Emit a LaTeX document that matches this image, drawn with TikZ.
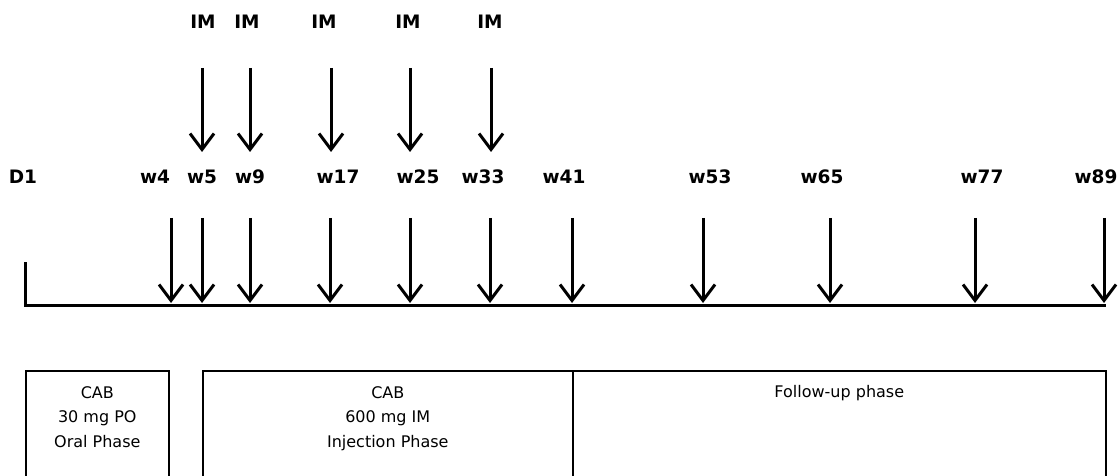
\documentclass[tikz,border=0pt]{standalone}
\usepackage{fontspec}
\setmainfont{DejaVu Sans}
\usetikzlibrary{arrows.meta,positioning}

\begin{document}
\begin{tikzpicture}[x=1pt, y=-1pt,
    week/.style={font=\fontsize{18.5}{20}\selectfont\bfseries, anchor=base, inner sep=0pt},
    dose/.style={-{Straight Barb[length=16pt,width=24pt]}, line width=3pt},
    phasebox/.style={draw, line width=1.6pt, anchor=north west, minimum height=130pt, inner sep=0pt},
    phasetext/.style={font=\fontsize{16}{24.5}\selectfont, align=center, anchor=north, inner sep=0pt}]
        \clip (0,0) rectangle (1120,476);
        \fill[white] (0,0) rectangle (1120,476);

        % injection labels and arrows
        \node[week] (im5) at (203,29) {IM};
        \node[week] (im9) at (247,29) {IM};
        \node[week] (im17) at (324,29) {IM};
        \node[week] (im25) at (408,29) {IM};
        \node[week] (im33) at (490,29) {IM};

        \coordinate (u5) at (202,68);
        \coordinate (u9) at (250,68);
        \coordinate (u17) at (331,68);
        \coordinate (u25) at (410,68);
        \coordinate (u33) at (491,68);
        \coordinate (ulow) at (0,152);

        \draw[dose] (u5) -- (u5 |- ulow);
        \draw[dose] (u9) -- (u9 |- ulow);
        \draw[dose] (u17) -- (u17 |- ulow);
        \draw[dose] (u25) -- (u25 |- ulow);
        \draw[dose] (u33) -- (u33 |- ulow);

        % visit labels
        \node[week] (d1) at (23,184) {D1};
        \node[week] (w4) at (155,184) {w4};
        \node[week] (w5) at (202,184) {w5};
        \node[week] (w9) at (250,184) {w9};
        \node[week] (w17) at (338,184) {w17};
        \node[week] (w25) at (418,184) {w25};
        \node[week] (w33) at (483,184) {w33};
        \node[week] (w41) at (564,184) {w41};
        \node[week] (w53) at (710,184) {w53};
        \node[week] (w65) at (822,184) {w65};
        \node[week] (w77) at (982,184) {w77};
        \node[week] (w89) at (1096,184) {w89};

        % time axis
        \coordinate (tick) at (25,262);
        \coordinate (axisL) at (25,305);
        \coordinate (axisR) at (1106,305);
        \draw[line width=3pt] (tick) -- (axisL) -- (axisR);

        \coordinate (v4) at (171,218);
        \coordinate (v5) at (202,218);
        \coordinate (v9) at (250,218);
        \coordinate (v17) at (330,218);
        \coordinate (v25) at (410,218);
        \coordinate (v33) at (490,218);
        \coordinate (v41) at (572,218);
        \coordinate (v53) at (703,218);
        \coordinate (v65) at (830,218);
        \coordinate (v77) at (975,218);
        \coordinate (v89) at (1104,218);
        \coordinate (vlow) at (0,303);

        \draw[dose] (v4) -- (v4 |- vlow);
        \draw[dose] (v5) -- (v5 |- vlow);
        \draw[dose] (v9) -- (v9 |- vlow);
        \draw[dose] (v17) -- (v17 |- vlow);
        \draw[dose] (v25) -- (v25 |- vlow);
        \draw[dose] (v33) -- (v33 |- vlow);
        \draw[dose] (v41) -- (v41 |- vlow);
        \draw[dose] (v53) -- (v53 |- vlow);
        \draw[dose] (v65) -- (v65 |- vlow);
        \draw[dose] (v77) -- (v77 |- vlow);
        \draw[dose] (v89) -- (v89 |- vlow);

        % study phases
        \node[phasebox, minimum width=143pt] (oral) at (25,370) {};
        \node[phasebox, minimum width=370pt] (inj) at (202,370) {};
        \node[phasebox, minimum width=533pt] (fu) at (572,370) {};

        \node[phasetext, below=16pt of oral.north] (oraltxt) {CAB\\30 mg PO\\Oral Phase};
        \node[phasetext, below=16pt of inj.north] (injtxt) {CAB\\600 mg IM\\Injection Phase};
        \node[phasetext, below=15pt of fu.north] (futxt) {Follow-up phase};
      \end{tikzpicture}
\end{document}
